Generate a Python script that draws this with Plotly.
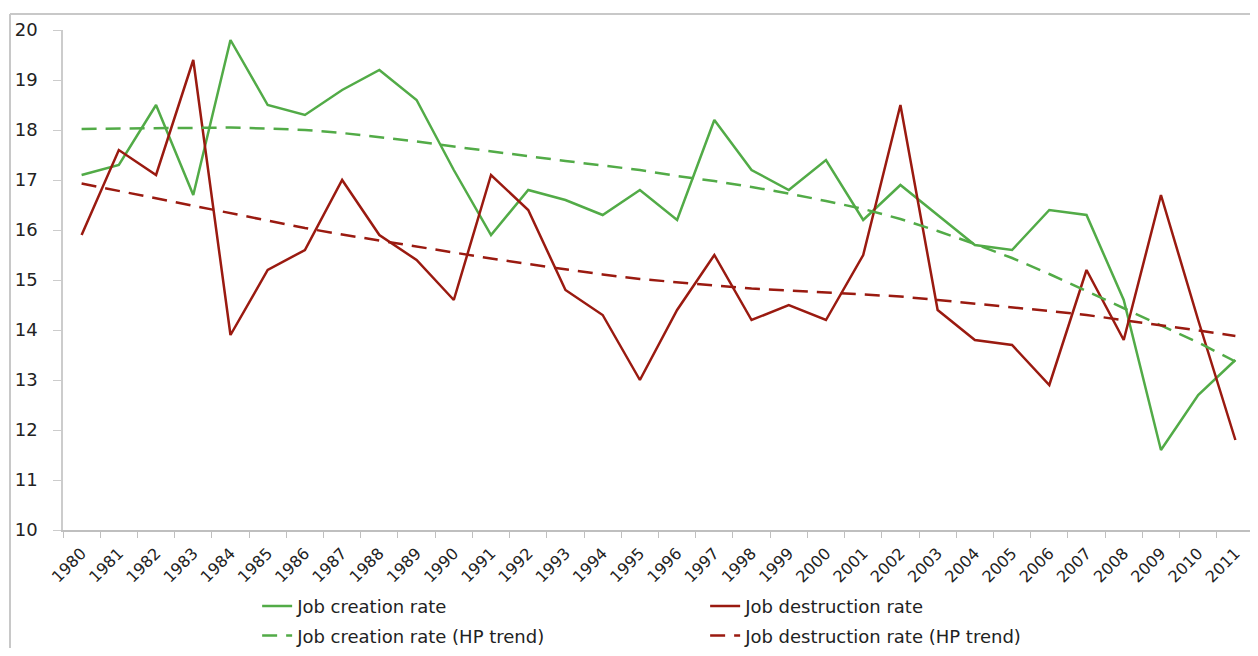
import plotly.graph_objects as go

# --- Données ---
annees = [str(a) for a in range(1980, 2012)]

creation = [17.1, 17.3, 18.5, 16.7, 19.8, 18.5, 18.3, 18.8, 19.2, 18.6,
            17.2, 15.9, 16.8, 16.6, 16.3, 16.8, 16.2, 18.2, 17.2, 16.8,
            17.4, 16.2, 16.9, 16.3, 15.7, 15.6, 16.4, 16.3, 14.6, 11.6,
            12.7, 13.4]

destruction = [15.9, 17.6, 17.1, 19.4, 13.9, 15.2, 15.6, 17.0, 15.9, 15.4,
               14.6, 17.1, 16.4, 14.8, 14.3, 13.0, 14.4, 15.5, 14.2, 14.5,
               14.2, 15.5, 18.5, 14.4, 13.8, 13.7, 12.9, 15.2, 13.8, 16.7,
               14.2, 11.8]

creation_hp = [18.02, 18.03, 18.04, 18.05, 18.05, 18.03, 18.00, 17.94, 17.86, 17.77,
               17.67, 17.57, 17.47, 17.38, 17.29, 17.20, 17.08, 16.98, 16.86, 16.73,
               16.58, 16.42, 16.22, 15.98, 15.72, 15.44, 15.12, 14.78, 14.44, 14.10,
               13.75, 13.37]

destruction_hp = [16.93, 16.78, 16.63, 16.48, 16.33, 16.18, 16.04, 15.91, 15.79, 15.66,
                  15.54, 15.43, 15.32, 15.21, 15.11, 15.02, 14.95, 14.89, 14.83, 14.79,
                  14.76, 14.72, 14.67, 14.60, 14.53, 14.46, 14.38, 14.30, 14.20, 14.10,
                  13.99, 13.88]

VERT = "#52ab47"
ROUGE = "#9a1a10"
DASH = "15px,9px"

fig = go.Figure()

# ligne 1 de la légende : séries brutes ; ligne 2 : tendances HP
fig.add_trace(go.Scatter(x=annees, y=creation, mode="lines", name="Job creation rate",
                         line=dict(color=VERT, width=2.5), legend="legend"))
fig.add_trace(go.Scatter(x=annees, y=destruction, mode="lines", name="Job destruction rate",
                         line=dict(color=ROUGE, width=2.5), legend="legend"))
fig.add_trace(go.Scatter(x=annees, y=creation_hp, mode="lines", name="Job creation rate (HP trend)",
                         line=dict(color=VERT, width=2.5, dash=DASH), legend="legend2"))
fig.add_trace(go.Scatter(x=annees, y=destruction_hp, mode="lines", name="Job destruction rate (HP trend)",
                         line=dict(color=ROUGE, width=2.5, dash=DASH), legend="legend2"))

# cadre gris de l'image d'origine (bord gauche et haut)
# (la page ajoute une marge de 8 px autour de la figure)
fig.add_shape(type="line", xref="paper", yref="paper", x0=-0.0445, x1=-0.0445, y0=1.032, y1=-0.3,
              line=dict(color="#c8c8c8", width=2))
fig.add_shape(type="line", xref="paper", yref="paper", x0=-0.0445, x1=1.01, y0=1.032, y1=1.032,
              line=dict(color="#c8c8c8", width=2))

legende = dict(orientation="h", x=0.163, xanchor="left", yanchor="top", yref="container",
               entrywidth=403, font=dict(size=18, color="#222222"),
               bgcolor="rgba(0,0,0,0)")

fig.update_layout(
    width=1246, height=640,
    margin=dict(l=55, r=0, t=22, b=118, autoexpand=False),
    plot_bgcolor="white", paper_bgcolor="white",
    font=dict(family="DejaVu Sans", color="#222222"),
    showlegend=True,
    legend=dict(legende, y=0.094),
    legend2=dict(legende, y=0.048),
    xaxis=dict(type="category", range=[-0.5, 31.5], tickangle=-45, automargin=False,
               tickson="boundaries", ticks="outside", ticklen=6, tickcolor="#bfbfbf",
               showline=True, linecolor="#bfbfbf", linewidth=1.5, ticklabelstandoff=6,
               showgrid=False, tickfont=dict(size=16, color="#222222")),
    yaxis=dict(range=[10, 20], dtick=1, ticks="outside", ticklen=8, tickcolor="#cccccc",
               showline=True, linecolor="#cccccc", linewidth=1.5, automargin=False,
               showgrid=False, zeroline=False, ticklabelstandoff=12,
               tickfont=dict(size=18, color="#222222")),
)

fig.write_html("out.html")
